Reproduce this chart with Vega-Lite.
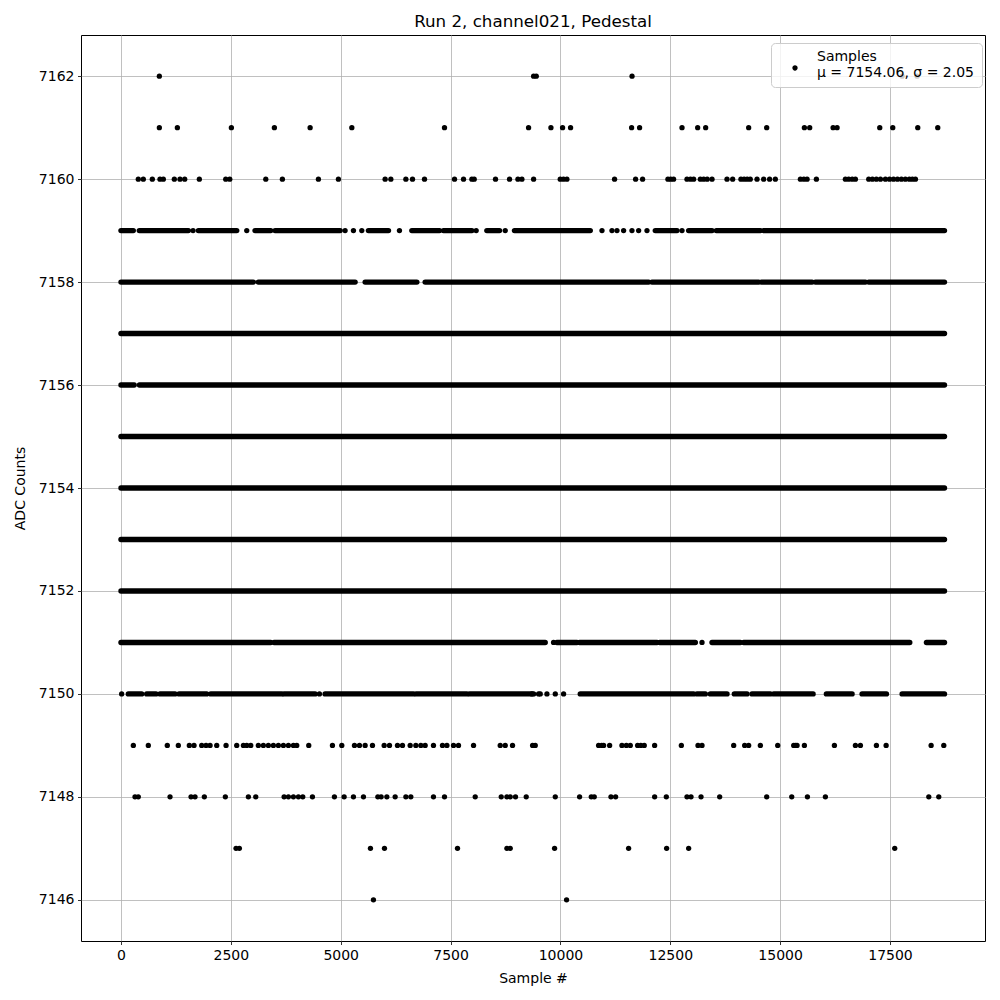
{
"$schema":"https://vega.github.io/schema/vega-lite/v6.json",
"width":904,"height":906,
"autosize":{"type":"none"},
"padding":{"left":81,"top":35,"right":15,"bottom":59},
"background":"white",
"title":{"text":"Run 2, channel021, Pedestal","fontSize":16.7,"font":"DejaVu Sans","fontWeight":"normal","color":"black","offset":4},
"config":{
 "view":{"stroke":"black","strokeWidth":1},
 "axis":{"labelFont":"DejaVu Sans","titleFont":"DejaVu Sans","labelFontSize":14,"titleFontSize":14,"titleFontWeight":"normal","labelColor":"black","titleColor":"black","domain":false,"tickColor":"black","tickSize":3.5,"tickWidth":0.8,"labelPadding":3.5,"gridColor":"#b0b0b0","gridWidth":0.8,"gridOpacity":1}
},
"datasets":{
"runs":[
{"y":7157,"x":0,"x2":18740},
{"y":7156,"x":0,"x2":300},{"y":7156,"x":420,"x2":18740},
{"y":7155,"x":0,"x2":18740},
{"y":7154,"x":0,"x2":18740},
{"y":7153,"x":0,"x2":18740},
{"y":7152,"x":0,"x2":18740},
{"y":7159,"x":0,"x2":280},{"y":7159,"x":417,"x2":1533},{"y":7159,"x":1761,"x2":2634},{"y":7159,"x":3051,"x2":3408},{"y":7159,"x":3507,"x2":4987},{"y":7159,"x":5631,"x2":6087},{"y":7159,"x":6619,"x2":7248},{"y":7159,"x":7339,"x2":7985},{"y":7159,"x":8326,"x2":8614},{"y":7159,"x":8955,"x2":10679},{"y":7159,"x":12159,"x2":12653},{"y":7159,"x":12918,"x2":13450},{"y":7159,"x":13548,"x2":14550},{"y":7159,"x":14625,"x2":18740},
{"y":7158,"x":0,"x2":3013},{"y":7158,"x":3126,"x2":5328},{"y":7158,"x":5556,"x2":6733},{"y":7158,"x":6922,"x2":12008},{"y":7158,"x":12084,"x2":14512},{"y":7158,"x":14573,"x2":15727},{"y":7158,"x":15802,"x2":16941},{"y":7158,"x":17016,"x2":18740},
{"y":7151,"x":0,"x2":3408},{"y":7151,"x":3484,"x2":9654},{"y":7151,"x":9920,"x2":10376},{"y":7151,"x":10436,"x2":12198},{"y":7151,"x":12259,"x2":13070},{"y":7151,"x":13450,"x2":14094},{"y":7151,"x":14170,"x2":17950},{"y":7151,"x":18330,"x2":18740},
{"y":7150,"x":167,"x2":471},{"y":7150,"x":585,"x2":797},{"y":7150,"x":888,"x2":1230},{"y":7150,"x":1321,"x2":1951},{"y":7150,"x":2042,"x2":3659},{"y":7150,"x":3712,"x2":4418},{"y":7150,"x":4645,"x2":6656},{"y":7150,"x":6717,"x2":7871},{"y":7150,"x":7932,"x2":9390},{"y":7150,"x":10452,"x2":13032},{"y":7150,"x":13108,"x2":13298},{"y":7150,"x":13412,"x2":13791},{"y":7150,"x":13958,"x2":14246},{"y":7150,"x":14360,"x2":14778},{"y":7150,"x":14854,"x2":15750},{"y":7150,"x":16053,"x2":16637},{"y":7150,"x":16865,"x2":17419},{"y":7150,"x":17776,"x2":18740}
],
"pts":[
{"y":7162,"x":873},{"y":7162,"x":9390},{"y":7162,"x":9450},{"y":7162,"x":11630},{"y":7162,"x":17776},{"y":7162,"x":18117},
{"y":7161,"x":873},{"y":7161,"x":1283},{"y":7161,"x":2512},{"y":7161,"x":3491},{"y":7161,"x":4304},{"y":7161,"x":5253},{"y":7161,"x":7362},{"y":7161,"x":9275},{"y":7161,"x":9784},{"y":7161,"x":10049},{"y":7161,"x":10231},{"y":7161,"x":11620},{"y":7161,"x":11802},{"y":7161,"x":12767},{"y":7161,"x":13123},{"y":7161,"x":13305},{"y":7161,"x":14284},{"y":7161,"x":14694},{"y":7161,"x":15552},{"y":7161,"x":15673},{"y":7161,"x":16205},{"y":7161,"x":16296},{"y":7161,"x":17267},{"y":7161,"x":17563},{"y":7161,"x":18132},{"y":7161,"x":18587},
{"y":7160,"x":394},{"y":7160,"x":508},{"y":7160,"x":713},{"y":7160,"x":888},{"y":7160,"x":964},{"y":7160,"x":1214},{"y":7160,"x":1343},{"y":7160,"x":1450},{"y":7160,"x":1783},{"y":7160,"x":2384},{"y":7160,"x":2475},{"y":7160,"x":3295},{"y":7160,"x":3673},{"y":7160,"x":4493},{"y":7160,"x":4948},{"y":7160,"x":6011},{"y":7160,"x":6141},{"y":7160,"x":6483},{"y":7160,"x":6634},{"y":7160,"x":6907},{"y":7160,"x":7590},{"y":7160,"x":7795},{"y":7160,"x":7985},{"y":7160,"x":8038},{"y":7160,"x":8523},{"y":7160,"x":8842},{"y":7160,"x":9033},{"y":7160,"x":9124},{"y":7160,"x":9390},{"y":7160,"x":9996},{"y":7160,"x":10070},{"y":7160,"x":10148},{"y":7160,"x":11232},{"y":7160,"x":11711},{"y":7160,"x":11870},{"y":7160,"x":12447},{"y":7160,"x":12510},{"y":7160,"x":12575},{"y":7160,"x":12880},{"y":7160,"x":12960},{"y":7160,"x":13032},{"y":7160,"x":13184},{"y":7160,"x":13260},{"y":7160,"x":13340},{"y":7160,"x":13450},{"y":7160,"x":13791},{"y":7160,"x":13920},{"y":7160,"x":14108},{"y":7160,"x":14180},{"y":7160,"x":14250},{"y":7160,"x":14320},{"y":7160,"x":14474},{"y":7160,"x":14625},{"y":7160,"x":14760},{"y":7160,"x":14891},{"y":7160,"x":15461},{"y":7160,"x":15540},{"y":7160,"x":15613},{"y":7160,"x":15825},{"y":7160,"x":16485},{"y":7160,"x":16560},{"y":7160,"x":16640},{"y":7160,"x":16713},{"y":7160,"x":17016},{"y":7160,"x":17100},{"y":7160,"x":17190},{"y":7160,"x":17283},{"y":7160,"x":17396},{"y":7160,"x":17490},{"y":7160,"x":17580},{"y":7160,"x":17670},{"y":7160,"x":17760},{"y":7160,"x":17850},{"y":7160,"x":17940},{"y":7160,"x":18010},{"y":7160,"x":18079},
{"y":7159,"x":1640},{"y":7159,"x":2862},{"y":7159,"x":5100},{"y":7159,"x":5290},{"y":7159,"x":5480},{"y":7159,"x":6337},{"y":7159,"x":8083},{"y":7159,"x":8744},{"y":7159,"x":10946},{"y":7159,"x":11173},{"y":7159,"x":11287},{"y":7159,"x":11438},{"y":7159,"x":11628},{"y":7159,"x":11780},{"y":7159,"x":11970},{"y":7159,"x":12767},
{"y":7151,"x":9844},{"y":7151,"x":13222},
{"y":7150,"x":15},{"y":7150,"x":4516},{"y":7150,"x":9503},{"y":7150,"x":9352},{"y":7150,"x":9541},{"y":7150,"x":9693},{"y":7150,"x":9883},{"y":7150,"x":10072},
{"y":7149,"x":281},{"y":7149,"x":622},{"y":7149,"x":1054},{"y":7149,"x":1305},{"y":7149,"x":1555},{"y":7149,"x":1662},{"y":7149,"x":1837},{"y":7149,"x":1936},{"y":7149,"x":2027},{"y":7149,"x":2179},{"y":7149,"x":2391},{"y":7149,"x":2634},{"y":7149,"x":2786},{"y":7149,"x":2862},{"y":7149,"x":2953},{"y":7149,"x":3126},{"y":7149,"x":3240},{"y":7149,"x":3354},{"y":7149,"x":3468},{"y":7149,"x":3582},{"y":7149,"x":3696},{"y":7149,"x":3810},{"y":7149,"x":3924},{"y":7149,"x":4000},{"y":7149,"x":4273},{"y":7149,"x":4812},{"y":7149,"x":5025},{"y":7149,"x":5313},{"y":7149,"x":5427},{"y":7149,"x":5556},{"y":7149,"x":5723},{"y":7149,"x":5989},{"y":7149,"x":6110},{"y":7149,"x":6292},{"y":7149,"x":6406},{"y":7149,"x":6581},{"y":7149,"x":6710},{"y":7149,"x":6824},{"y":7149,"x":6922},{"y":7149,"x":7111},{"y":7149,"x":7316},{"y":7149,"x":7417},{"y":7149,"x":7567},{"y":7149,"x":7681},{"y":7149,"x":8023},{"y":7149,"x":8630},{"y":7149,"x":8744},{"y":7149,"x":8910},{"y":7149,"x":9367},{"y":7149,"x":9427},{"y":7149,"x":10869},{"y":7149,"x":10940},{"y":7149,"x":10983},{"y":7149,"x":11120},{"y":7149,"x":11400},{"y":7149,"x":11500},{"y":7149,"x":11590},{"y":7149,"x":11757},{"y":7149,"x":11830},{"y":7149,"x":11908},{"y":7149,"x":12144},{"y":7149,"x":12752},{"y":7149,"x":13131},{"y":7149,"x":13222},{"y":7149,"x":13943},{"y":7149,"x":14193},{"y":7149,"x":14284},{"y":7149,"x":14550},{"y":7149,"x":14945},{"y":7149,"x":15309},{"y":7149,"x":15350},{"y":7149,"x":15385},{"y":7149,"x":15552},{"y":7149,"x":16235},{"y":7149,"x":16713},{"y":7149,"x":16827},{"y":7149,"x":17191},{"y":7149,"x":17412},{"y":7149,"x":18436},{"y":7149,"x":18724},
{"y":7148,"x":319},{"y":7148,"x":394},{"y":7148,"x":1116},{"y":7148,"x":1594},{"y":7148,"x":1685},{"y":7148,"x":1897},{"y":7148,"x":2375},{"y":7148,"x":2899},{"y":7148,"x":3067},{"y":7148,"x":3712},{"y":7148,"x":3810},{"y":7148,"x":3924},{"y":7148,"x":4038},{"y":7148,"x":4137},{"y":7148,"x":4357},{"y":7148,"x":4857},{"y":7148,"x":5078},{"y":7148,"x":5290},{"y":7148,"x":5518},{"y":7148,"x":5845},{"y":7148,"x":5920},{"y":7148,"x":6050},{"y":7148,"x":6239},{"y":7148,"x":6483},{"y":7148,"x":6596},{"y":7148,"x":7111},{"y":7148,"x":7362},{"y":7148,"x":8061},{"y":7148,"x":8653},{"y":7148,"x":8782},{"y":7148,"x":8858},{"y":7148,"x":8978},{"y":7148,"x":9222},{"y":7148,"x":9883},{"y":7148,"x":10436},{"y":7148,"x":10702},{"y":7148,"x":10770},{"y":7148,"x":11150},{"y":7148,"x":11256},{"y":7148,"x":12144},{"y":7148,"x":12410},{"y":7148,"x":12880},{"y":7148,"x":12972},{"y":7148,"x":13200},{"y":7148,"x":13624},{"y":7148,"x":14694},{"y":7148,"x":15264},{"y":7148,"x":15621},{"y":7148,"x":16030},{"y":7148,"x":18383},{"y":7148,"x":18610},
{"y":7147,"x":2618},{"y":7147,"x":2694},{"y":7147,"x":5677},{"y":7147,"x":5996},{"y":7147,"x":7658},{"y":7147,"x":8782},{"y":7147,"x":8858},{"y":7147,"x":9867},{"y":7147,"x":11552},{"y":7147,"x":12417},{"y":7147,"x":12918},{"y":7147,"x":17608},
{"y":7146,"x":5745},{"y":7146,"x":10140}
]
},
"layer":[
{"data":{"name":"runs"},
 "mark":{"type":"rule","color":"black","strokeWidth":5.4,"strokeCap":"round"},
 "encoding":{
  "x":{"field":"x","type":"quantitative","scale":{"domain":[-910,19662],"nice":false,"zero":false},"axis":{"values":[0,2500,5000,7500,10000,12500,15000,17500],"format":"d","title":"Sample #","titlePadding":9}},
  "x2":{"field":"x2"},
  "y":{"field":"y","type":"quantitative","scale":{"domain":[7145.2,7162.8],"nice":false,"zero":false},"axis":{"values":[7146,7148,7150,7152,7154,7156,7158,7160,7162],"format":"d","title":"ADC Counts","titlePadding":11}}
 }},
{"data":{"name":"pts"},
 "mark":{"type":"point","filled":true,"shape":"circle","size":28,"opacity":1},
 "encoding":{
  "x":{"field":"x","type":"quantitative"},
  "y":{"field":"y","type":"quantitative"},
  "color":{"datum":"Samples","type":"nominal","scale":{"range":["black"]},
   "legend":{"orient":"none","legendX":690,"legendY":8,"title":null,"labelExpr":"['Samples','μ = 7154.06, σ = 2.05']","labelFont":"DejaVu Sans","labelFontSize":14,"labelColor":"black","labelLimit":0,"fillColor":"rgba(255,255,255,0.8)","strokeColor":"#cccccc","cornerRadius":4,"padding":7,"symbolSize":28,"symbolType":"M1,4.15A1,1,0,1,1,-1,4.15A1,1,0,1,1,1,4.15Z","symbolFillColor":"black","symbolStrokeWidth":0,"symbolOffset":10,"labelOffset":15}}
 }}
]
}
